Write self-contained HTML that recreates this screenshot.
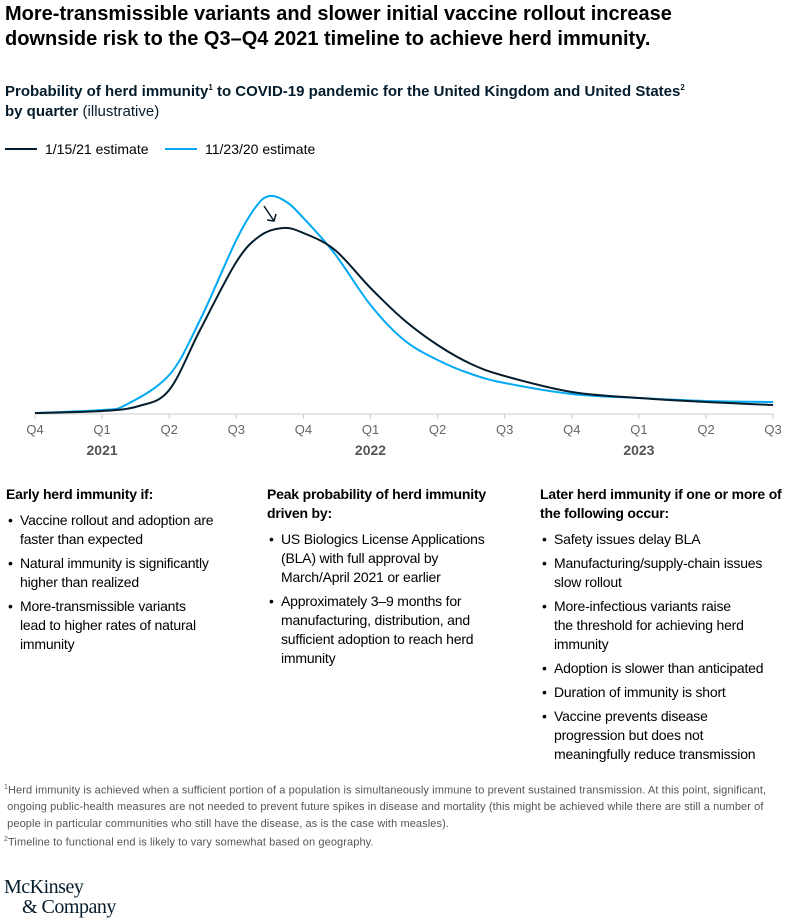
<!DOCTYPE html>
<html><head><meta charset="utf-8">
<style>
*{margin:0;padding:0;box-sizing:border-box}
body{width:804px;height:923px;background:#fff;font-family:"Liberation Sans",sans-serif;color:#000;position:relative;overflow:hidden}
.abs{position:absolute}
h1{position:absolute;left:5px;top:2px;font-size:20px;line-height:25px;font-weight:bold;width:745px}
.sub{left:5px;top:78px;font-size:15px;line-height:20px;font-weight:bold;color:#051c2c;width:765px}
.sub span{font-weight:normal}
.legend{top:141px;font-size:14px;display:flex;align-items:center}
.legend i{display:inline-block;width:32px;height:2px;margin-right:8px}
.col{top:485px;font-size:14px;line-height:19px;color:#000;letter-spacing:-0.2px}
.col h3{font-size:14px;font-weight:bold;margin-bottom:7px;line-height:19px}
.col ul{list-style:none}
.col li{position:relative;padding-left:14px;margin-bottom:5px}
.col li:before{content:"•";position:absolute;left:2px}
.foot{left:4px;top:780px;font-family:"Liberation Sans Narrow","Liberation Sans",sans-serif;font-size:11px;line-height:16.5px;color:#555;width:800px;letter-spacing:0.1px}
.logo{left:4px;top:877px;font-family:"Liberation Serif",serif;font-size:20px;line-height:20px;color:#051c2c;letter-spacing:-0.5px}
</style></head><body>
<h1>More-transmissible variants and slower initial vaccine rollout increase downside risk to the Q3–Q4 2021 timeline to achieve herd immunity.</h1>
<div class="abs sub">Probability of herd immunity<sup style="font-size:8px">1</sup> to COVID-19 pandemic for the United Kingdom and United States<sup style="font-size:8px">2</sup><br>by quarter <span>(illustrative)</span></div>
<div class="abs legend" style="left:5px"><i style="background:#051c2c"></i>1/15/21 estimate</div>
<div class="abs legend" style="left:165px"><i style="background:#00a9f4"></i>11/23/20 estimate</div>
<svg class="abs" style="left:0;top:170px" width="804" height="300">
<g id="g"></g>
</svg>
<div class="abs col" style="left:6px;width:230px">
<h3>Early herd immunity if:</h3>
<ul><li>Vaccine rollout and adoption are faster than expected</li><li>Natural immunity is significantly higher than realized</li><li>More-transmissible variants<br>lead to higher rates of natural immunity</li></ul></div>
<div class="abs col" style="left:267px;width:235px">
<h3>Peak probability of herd immunity driven by:</h3>
<ul><li>US Biologics License Applications (BLA) with full approval by March/April 2021 or earlier</li><li>Approximately 3–9 months for manufacturing, distribution, and sufficient adoption to reach herd immunity</li></ul></div>
<div class="abs col" style="left:540px;width:246px">
<h3>Later herd immunity if one or more of the following occur:</h3>
<ul><li>Safety issues delay BLA</li><li>Manufacturing/supply-chain issues slow rollout</li><li>More-infectious variants raise<br>the threshold for achieving herd immunity</li><li>Adoption is slower than anticipated</li><li>Duration of immunity is short</li><li>Vaccine prevents disease<br>progression but does not<br>meaningfully reduce transmission</li></ul></div>
<div class="abs foot"><sup style="font-size:7px">1</sup>Herd immunity is achieved when a sufficient portion of a population is simultaneously immune to prevent sustained transmission. At this point, significant,<br>&nbsp;ongoing public-health measures are not needed to prevent future spikes in disease and mortality (this might be achieved while there are still a number of<br>&nbsp;people in particular communities who still have the disease, as is the case with measles).<br><sup style="font-size:7px">2</sup>Timeline to functional end is likely to vary somewhat based on geography.</div>
<div class="abs logo">McKinsey<br>&nbsp;&nbsp;&nbsp;&nbsp;&amp; Company</div>
<script>
const quarters=["Q4","Q1","Q2","Q3","Q4","Q1","Q2","Q3","Q4","Q1","Q2","Q3"];
const years=["2021","2022","2023"];
const yearIdx=[1,5,9];
const janT=[0,1,1.55,2,2.46,3,3.35,3.7,4.0,4.47,5,5.5,6,6.5,7,8,9,10,11];
const janV=[1,3,8,24,84,152,178,186,181,164,126,94,69,50,38,22,16,12,9];
const novT=[0,1,1.35,2,2.46,3,3.3,3.5,3.75,4.0,4.47,5,5.5,6,6.5,7,8,9,10,11];
const novV=[1,4,9,39,94,174,208,218,212,196,160,109,74,54,40,31,20,16,13,12];
const svgNS="http://www.w3.org/2000/svg";
const g=document.getElementById('g');
const x0=35,dx=67.1,base=244,sc=1;
const X=t=>x0+t*dx, Y=v=>base-v*sc;
function el(tag,attrs){const e=document.createElementNS(svgNS,tag);for(const k in attrs)e.setAttribute(k,attrs[k]);g.appendChild(e);return e;}
const axis=el('line',{x1:X(0),x2:X(11),y1:base,y2:base,stroke:'#ccc','stroke-width':1});


quarters.forEach((q,i)=>{
 const tk=el('line',{x1:X(i),x2:X(i),y1:base,y2:base+5,stroke:'#ccc'});
 
 
 const t=el('text',{x:X(i),y:base+20,'text-anchor':'middle','font-size':13,fill:'#666','font-family':'Liberation Sans Narrow, Liberation Sans, sans-serif'});
 t.textContent=q;
 
 
});
years.forEach((y,i)=>{
 const t=el('text',{x:X(yearIdx[i]),y:base+41,'text-anchor':'middle','font-size':14,'font-weight':'bold',fill:'#555'});
 t.textContent=y;
 
 
});
function path(T,V){const p=T.map((t,i)=>[X(t),Y(V[i])]);let d='M'+p[0];for(let i=0;i<p.length-1;i++){const p0=p[i-1]||p[i],p1=p[i],p2=p[i+1],p3=p[i+2]||p2;const c1=[p1[0]+(p2[0]-p0[0])/6,p1[1]+(p2[1]-p0[1])/6],c2=[p2[0]-(p3[0]-p1[0])/6,p2[1]-(p3[1]-p1[1])/6];d+=' C'+c1+' '+c2+' '+p2;}return d;}
const nov=el('path',{d:path(novT,novV),fill:'none',stroke:'#00a9f4','stroke-width':2});


const jan=el('path',{d:path(janT,janV),fill:'none',stroke:'#051c2c','stroke-width':2});


const ar=el('path',{d:'M264,36 L274,51 M267,50 L274,51 L276,44',fill:'none',stroke:'#051c2c','stroke-width':1.5});


</script>
</body></html>
